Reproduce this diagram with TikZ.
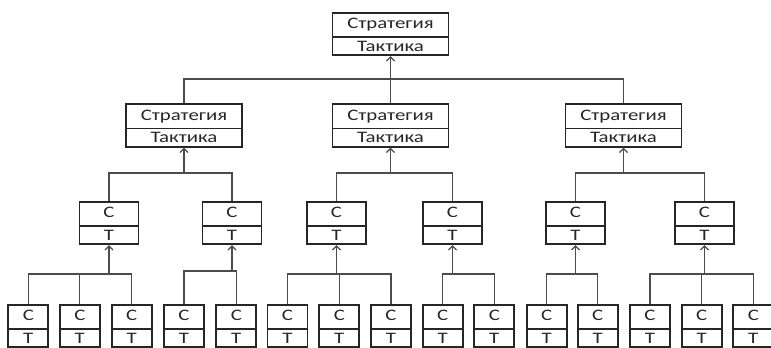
\documentclass[tikz,border=0pt]{standalone}
\usepackage{fontspec}
\setmainfont{Carlito}[FakeStretch=1.3]
\usetikzlibrary{calc,shapes,arrows.meta}

\begin{document}
\begin{tikzpicture}[x=1pt,y=-1pt,>={Straight Barb[length=4pt,width=8pt]},
        plan/.style={rectangle split, rectangle split parts=2, draw=black!85,
            line width=1.8pt, inner xsep=0pt, inner ysep=3pt,
            text height=12pt, text depth=4.5pt, text=black!85,
            font=\fontsize{16}{18}\selectfont},
        big/.style={plan, minimum width=116pt},
        small/.style={plan, minimum width=59pt},
        tiny/.style={plan, minimum width=40pt},
        link/.style={draw=black!70, line width=1.3pt}]
    \useasboundingbox (0,0) rectangle (771,348);
    % strategy levels
    \node[big] (top) at (390.5,34) {Стратегия\nodepart{two}Тактика};
    \foreach \n/\x in {m1/184,m2/390.5,m3/623.5}
        \node[big] (\n) at (\x,125.5) {Стратегия\nodepart{two}Тактика};
    \foreach \n/\x in {s1/109,s2/232,s3/336.5,s4/452.5,s5/575.5,s6/704.5}
        \node[small] (\n) at (\x,223) {С\nodepart{two}Т};
    \foreach \n/\x in {b1/28.3,b2/79.8,b3/131.7,b4/184,b5/236.3,b6/287.5,b7/339.3,
            b8/391,b9/442.7,b10/494.3,b11/546.7,b12/597.7,b13/650,b14/701.7,b15/753.3}
        \node[tiny] (\n) at (\x,326) {С\nodepart{two}Т};
    % connectors
    \draw[link] (m1.north) |- (m3.north |- 0,79) -- (m3.north);
    \draw[link,->] (m2.north) -- (top.south);
    \foreach \p/\a/\b/\y in {m1/s1/s2/173,m2/s3/s4/173,m3/s5/s6/173,
            s1/b1/b3/274,s2/b4/b5/271,s3/b6/b8/274,s4/b9/b10/274,
            s5/b11/b12/274,s6/b13/b15/274}{
        \draw[link] (\a.north) |- (\b.north |- 0,\y) -- (\b.north);
        \draw[link,->] (\p.south |- 0,\y) -- (\p.south);
    }
    \foreach \c in {b2,b7,b14}
        \draw[link] (\c.north) -- (\c.north |- 0,274);
\end{tikzpicture}
\end{document}
